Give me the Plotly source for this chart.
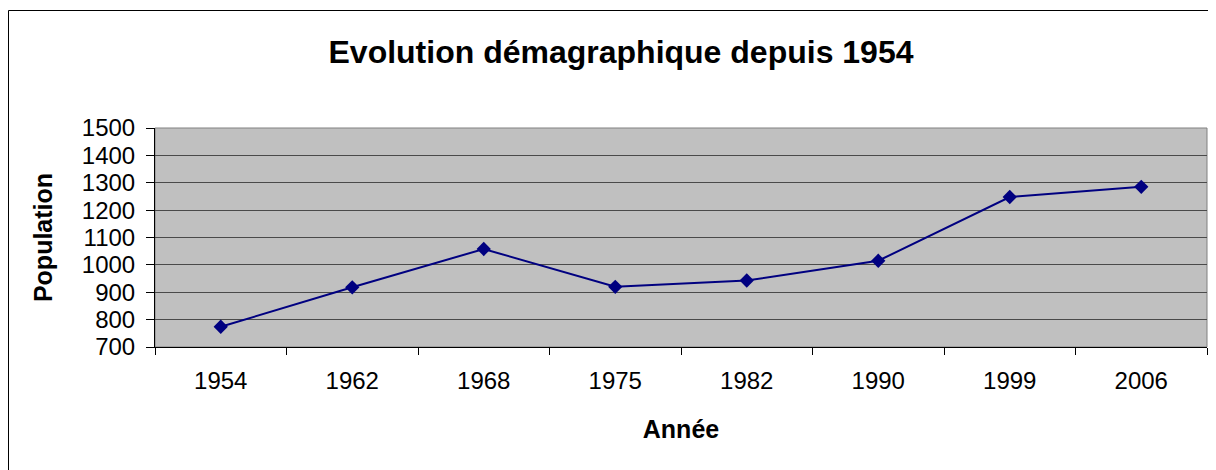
import plotly.graph_objects as go

years = ["1954", "1962", "1968", "1975", "1982", "1990", "1999", "2006"]
population = [774, 918, 1058, 920, 943, 1015, 1248, 1285]
y_ticks = [700, 800, 900, 1000, 1100, 1200, 1300, 1400, 1500]

FONT = "Liberation Sans, Arial, sans-serif"

fig = go.Figure()
fig.add_trace(go.Scatter(
    x=years, y=population, mode="lines+markers",
    line=dict(color="#000080", width=2),
    marker=dict(symbol="diamond", size=11, color="#000080"),
    showlegend=False,
))

# page body has an 8px margin, so the figure starts at (8, 8)
W, H = 1208, 462
L, R, T, B = 147, 9, 120, 123
pw, ph = W - L - R, H - T - B

fig.update_layout(
    width=W, height=H,
    margin=dict(l=L, r=R, t=T, b=B),
    paper_bgcolor="white",
    plot_bgcolor="#C0C0C0",
    font=dict(family=FONT, color="black", size=24),
    title=dict(
        text="<b>Evolution démagraphique depuis 1954</b>",
        x=(621 - 8) / W, xanchor="center", xref="container",
        y=1 - (52 - 8) / H, yanchor="middle", yref="container",
        font=dict(size=32, family=FONT, color="black"),
    ),
    xaxis=dict(
        type="category", tickson="boundaries", ticks="outside", ticklen=7,
        tickcolor="black", tickwidth=1,
        showgrid=False, showline=True, linecolor="black", linewidth=1,
        tickfont=dict(size=24), ticklabelstandoff=12,
        title=dict(text="<b>Année</b>", font=dict(size=25), standoff=27),
        range=[-0.5, 7.5],
    ),
    yaxis=dict(
        range=[700, 1500], tickvals=y_ticks, ticks="outside", ticklen=8,
        tickcolor="black", tickwidth=1,
        showgrid=True, gridcolor="#4a4a4a", gridwidth=1,
        showline=True, linecolor="black", linewidth=1, zeroline=False,
        tickfont=dict(size=24), ticklabelstandoff=6,
        title=dict(text="<b>Population</b>", font=dict(size=25), standoff=22),
    ),
    shapes=[
        dict(type="rect", xref="paper", yref="paper", x0=0, y0=0, x1=1, y1=1,
             line=dict(color="#808080", width=1), layer="below"),
        dict(type="rect", xref="paper", yref="paper",
             x0=(0.5 - L) / pw, y0=-2, x1=3, y1=1 + (T - 2.5) / ph,
             line=dict(color="black", width=1)),
    ],
)

fig.write_html("out.html")
